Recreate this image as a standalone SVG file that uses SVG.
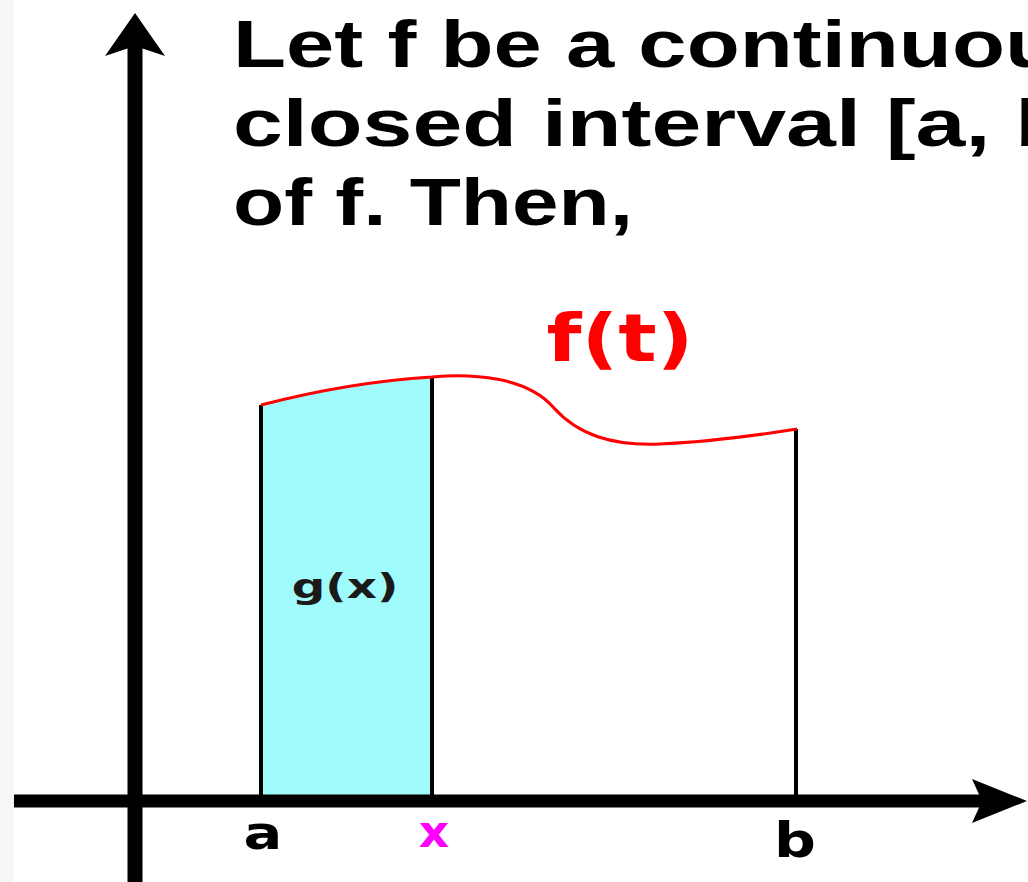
<svg xmlns="http://www.w3.org/2000/svg" width="1028" height="882" viewBox="0 0 1028 882">
<style>
.title{font-family:"Liberation Sans",Arial,sans-serif;font-weight:bold;font-size:67px;fill:#000}
.lbl{font-family:"DejaVu Sans",Verdana,sans-serif;font-weight:bold;text-anchor:middle}
.vline{stroke:#000;stroke-width:4;fill:none}
.axis{stroke:#000;fill:none}
</style>
<rect x="0" y="0" width="1028" height="882" fill="#fff"/>
<rect x="0" y="0" width="14" height="882" fill="#f6f6f6"/>
<g id="area-gx">
<path d="M261,405 Q350,382 432,377 L432,796 L261,796 Z" fill="#a0fbfc"/>
<text class="lbl" transform="translate(345,598) scale(1.42,1)" font-size="33" fill="#1a1a1a">g(x)</text>
</g>
<g id="bounds">
<line class="vline" x1="261" y1="405" x2="261" y2="796"/>
<line class="vline" x1="432" y1="377" x2="432" y2="796"/>
<line class="vline" x1="796" y1="429" x2="796" y2="796"/>
</g>
<g id="curve-f">
<path d="M261,405 Q350,382 432,377 C472,373 527,377 553,407 C578,435 612,446 660,444 C710,442 765,434 797,429" fill="none" stroke="#ff0000" stroke-width="3"/>
<text class="lbl" transform="translate(620,361) scale(1.22,1)" font-size="66" fill="#ff0000">f(t)</text>
</g>
<g id="connectors">
<line class="axis" x1="135" y1="44" x2="135" y2="882" stroke-width="15"/>
<polygon points="135,13 165,56 135,46 105,56" fill="#000"/>
<line class="axis" x1="14" y1="801" x2="985" y2="801" stroke-width="13"/>
<polygon points="1027,801 972,779 982,801 972,823" fill="#000"/>
</g>
<g id="tick-labels">
<text class="lbl" transform="translate(263,849) scale(1.25,1)" font-size="46" fill="#000">a</text>
<text class="lbl" transform="translate(434,847) scale(1.05,1)" font-size="45" fill="#ff00ff">x</text>
<text class="lbl" transform="translate(795,857) scale(1.22,1)" font-size="48" fill="#000">b</text>
</g>
<g id="statement">
<text class="title" x="233" y="67" textLength="825" lengthAdjust="spacingAndGlyphs">Let f be a continuou</text>
<text class="title" x="233" y="146" textLength="837" lengthAdjust="spacingAndGlyphs">closed interval [a, b</text>
<text class="title" x="233" y="225" textLength="400" lengthAdjust="spacingAndGlyphs">of f. Then,</text>
</g>
</svg>
